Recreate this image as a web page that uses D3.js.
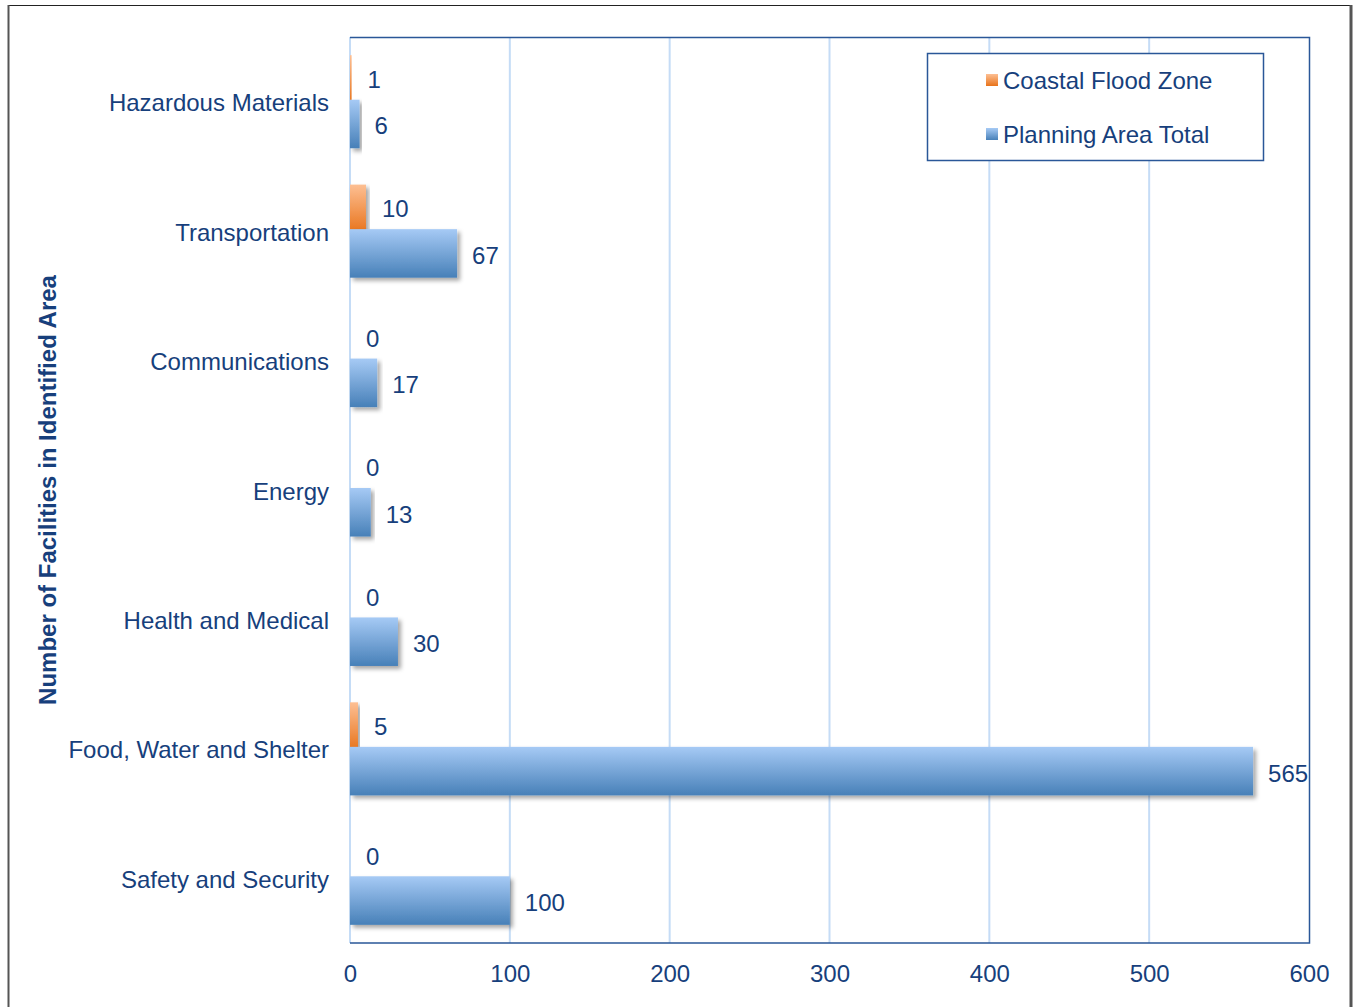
<!DOCTYPE html>
<html>
<head>
<meta charset="utf-8">
<script src="https://cdn.jsdelivr.net/npm/d3@7"></script>
<style>
  html, body { margin: 0; padding: 0; background: #fff; }
  svg { display: block; font-family: "Liberation Sans", Arial, sans-serif; }
</style>
</head>
<body>
<svg id="chart" width="1353" height="1007"></svg>
<script>
// Facility counts by category
const categories = [
  "Hazardous Materials",
  "Transportation",
  "Communications",
  "Energy",
  "Health and Medical",
  "Food, Water and Shelter",
  "Safety and Security"
];
const coastalFloodZone = [1, 10, 0, 0, 0, 5, 0];
const planningAreaTotal = [6, 67, 17, 13, 30, 565, 100];
const xTicks = [0, 100, 200, 300, 400, 500, 600];
const seriesNames = ["Coastal Flood Zone", "Planning Area Total"];

const textColor = "#173f7c";
const frameBlue = "#2a5798";
const gridColor = "#c5dcf6";
const fontSize = 24;

const svg = d3.select("#chart");
const defs = svg.append("defs");

// vertical gradients for the two series
function gradient(id, top, bottom) {
  const g = defs.append("linearGradient").attr("id", id)
    .attr("x1", 0).attr("y1", 0).attr("x2", 0).attr("y2", 1);
  g.append("stop").attr("offset", "0%").attr("stop-color", top);
  g.append("stop").attr("offset", "100%").attr("stop-color", bottom);
}
gradient("gradOrange", "#fdbf93", "#e8731a");
gradient("gradBlue", "#a6caf5", "#4780b8");

const shadow = defs.append("filter").attr("id", "shadow")
  .attr("x", "-10%").attr("y", "-20%").attr("width", "130%").attr("height", "160%");
shadow.append("feDropShadow").attr("dx", 3).attr("dy", 3)
  .attr("stdDeviation", 2.2).attr("flood-color", "#000").attr("flood-opacity", 0.35);

// outer frame
svg.append("line").attr("x1", 8).attr("x2", 1352).attr("y1", 5.5).attr("y2", 5.5)
  .attr("stroke", "#222").attr("stroke-width", 1);
svg.append("line").attr("x1", 8.5).attr("x2", 8.5).attr("y1", 5).attr("y2", 1007)
  .attr("stroke", "#555").attr("stroke-width", 2);
svg.append("line").attr("x1", 1351).attr("x2", 1351).attr("y1", 5).attr("y2", 1007)
  .attr("stroke", "#555").attr("stroke-width", 3);

const plot = { left: 350, right: 1309, top: 37, bottom: 943 };

const x = d3.scaleLinear().domain([0, 600]).range([plot.left, plot.right]);
const y = d3.scaleBand().domain(categories).range([plot.top, plot.bottom]).padding(0);
const bw = y.bandwidth();
const barH = bw * 0.375;
const overlap = 4;

// gridlines
svg.append("g").selectAll("line").data(xTicks.slice(1, -1)).join("line")
  .attr("x1", d => x(d)).attr("x2", d => x(d))
  .attr("y1", plot.top).attr("y2", plot.bottom)
  .attr("stroke", gridColor).attr("stroke-width", 2);

// left axis line (light)
svg.append("line").attr("x1", plot.left).attr("x2", plot.left)
  .attr("y1", plot.top).attr("y2", plot.bottom)
  .attr("stroke", gridColor).attr("stroke-width", 2);

// plot border: top, right, bottom
svg.append("path")
  .attr("d", `M${plot.left},${plot.top + 0.5}H${plot.right + 0.5}V${plot.bottom}H${plot.left}`)
  .attr("fill", "none").attr("stroke", frameBlue).attr("stroke-width", 1.5);

// bars
const rows = categories.map((c, i) => ({ c, flood: coastalFloodZone[i], total: planningAreaTotal[i] }));
const gBars = svg.append("g");

gBars.selectAll("rect.flood").data(rows.filter(d => d.flood > 0)).join("rect")
  .attr("class", "flood")
  .attr("x", x(0))
  .attr("y", d => y(d.c) + bw / 2 - barH + overlap / 2)
  .attr("width", d => x(d.flood) - x(0))
  .attr("height", barH)
  .attr("fill", "url(#gradOrange)")
  .attr("filter", "url(#shadow)");

gBars.selectAll("rect.total").data(rows).join("rect")
  .attr("class", "total")
  .attr("x", x(0))
  .attr("y", d => y(d.c) + bw / 2 - overlap / 2)
  .attr("width", d => x(d.total) - x(0))
  .attr("height", barH)
  .attr("fill", "url(#gradBlue)")
  .attr("filter", "url(#shadow)");

// value labels
const labelStyle = sel => sel.attr("fill", textColor).attr("font-size", fontSize)
  .attr("dominant-baseline", "central");

svg.append("g").selectAll("text").data(rows).join("text")
  .attr("x", d => x(d.flood) + 16)
  .attr("y", d => y(d.c) + bw / 2 - barH / 2 + overlap / 2)
  .text(d => d.flood)
  .call(labelStyle);

svg.append("g").selectAll("text").data(rows).join("text")
  .attr("x", d => x(d.total) + 15)
  .attr("y", d => y(d.c) + bw / 2 + barH / 2)
  .text(d => d.total)
  .call(labelStyle);

// category labels
svg.append("g").selectAll("text").data(categories).join("text")
  .attr("x", 329)
  .attr("y", d => y(d) + bw / 2 + 1)
  .attr("text-anchor", "end")
  .text(d => d)
  .call(labelStyle);

// x tick labels
const xAxis = d3.axisBottom(x).tickValues(xTicks).tickSize(0).tickPadding(0);
const gx = svg.append("g").attr("transform", `translate(0,${plot.bottom})`).call(xAxis);
gx.select(".domain").remove();
gx.selectAll("text")
  .attr("y", 30)
  .attr("dy", null)
  .attr("dominant-baseline", "central")
  .attr("fill", textColor)
  .attr("font-size", fontSize)
  .attr("font-family", "Liberation Sans, Arial, sans-serif");

// y axis title
svg.append("text")
  .attr("transform", `translate(47,${(plot.top + plot.bottom) / 2}) rotate(-90)`)
  .attr("text-anchor", "middle")
  .attr("dominant-baseline", "central")
  .attr("font-size", fontSize)
  .attr("font-weight", "bold")
  .attr("fill", textColor)
  .text("Number of Facilities in Identified Area");

// legend
const legend = svg.append("g");
legend.append("rect").attr("x", 927.5).attr("y", 53.5).attr("width", 336).attr("height", 107)
  .attr("fill", "#fff").attr("stroke", frameBlue).attr("stroke-width", 1.5);
const legendItems = [
  { name: seriesNames[0], fill: "url(#gradOrange)", y: 80 },
  { name: seriesNames[1], fill: "url(#gradBlue)", y: 134 }
];
legendItems.forEach(it => {
  legend.append("rect").attr("x", 986).attr("y", it.y - 6).attr("width", 12).attr("height", 12)
    .attr("fill", it.fill);
  legend.append("text").attr("x", 1003).attr("y", it.y).text(it.name).call(labelStyle);
});
</script>
</body>
</html>
